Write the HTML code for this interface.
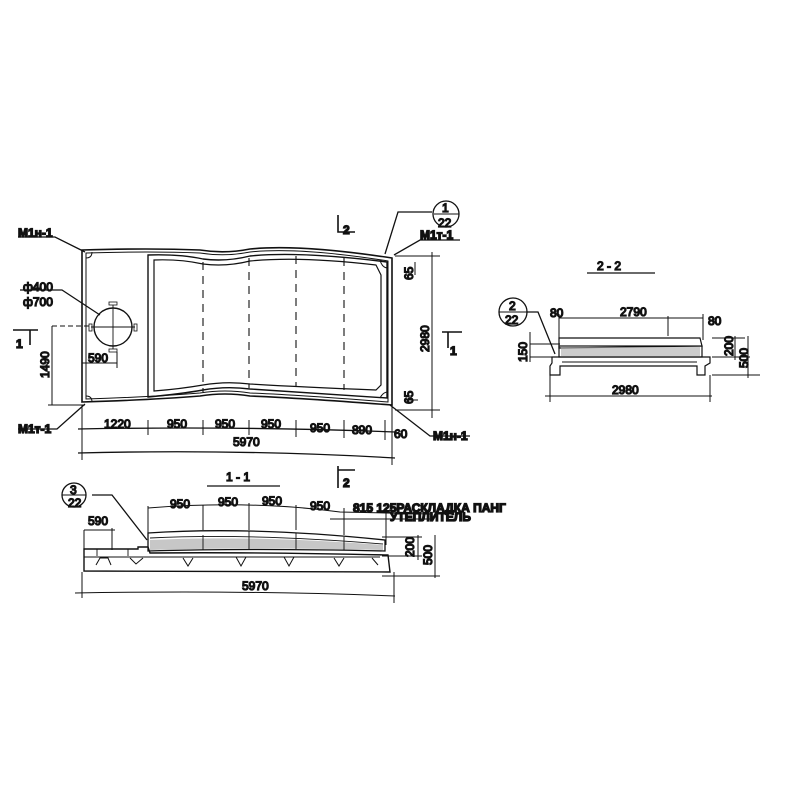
<!DOCTYPE html>
<html><head><meta charset="utf-8"><style>
html,body{margin:0;padding:0;background:#fff;width:800px;height:800px;overflow:hidden}
text{font-family:"Liberation Sans",sans-serif;fill:#111;font-size:12px}
</style></head><body>
<svg width="800" height="800" viewBox="0 0 800 800" xmlns="http://www.w3.org/2000/svg" fill="none" stroke="#111" stroke-width="1.3">
<!-- PLAN -->
<path d="M82 250 Q150 248 200 250 Q225 254 250 249 Q300 244 392 258 L392 405 Q300 398 250 396 Q225 392 200 396 Q150 400 82 402 Z" stroke-width="1.6"/>
<path d="M86 253 Q150 251 200 253 Q225 257 250 252 Q300 247 388 261 L388 402 Q300 395 250 393 Q225 389 200 393 Q150 397 86 399 Z" stroke-width="1"/>
<path d="M148 255 Q180 254 203 259 Q226 262 250 256 Q300 251 387 262 L387 398 Q300 392 250 389 Q226 386 203 390 Q180 394 148 397 Z" stroke-width="1.4"/>
<path d="M154 260 Q180 259 203 264 Q226 267 250 261 Q300 256 376 265 L381 275 L381 385 L376 390 Q300 387 250 384 Q226 381 203 385 Q180 389 154 391 Z" stroke-width="1.2"/>
<g stroke-dasharray="8,6" stroke-width="1.1">
<line x1="203" y1="262" x2="203" y2="392"/><line x1="249" y1="258" x2="249" y2="388"/><line x1="296" y1="256" x2="296" y2="386"/><line x1="344" y1="258" x2="344" y2="390"/>
</g>
<path d="M86 258 Q92 258 92 252 M86 396 Q92 396 92 402 M380 260 Q382 268 388 268 M380 398 Q383 392 388 392" stroke-width="1"/>
<circle cx="113" cy="327" r="19" stroke-width="1.4"/>
<line x1="113" y1="305" x2="113" y2="349" stroke-width="0.9"/><line x1="91" y1="327" x2="135" y2="327" stroke-width="0.9"/>
<rect x="109" y="302" width="8" height="3" stroke-width="0.8"/><rect x="109" y="349" width="8" height="3" stroke-width="0.8"/>
<rect x="89" y="324" width="3" height="7" stroke-width="0.8"/><rect x="134" y="324" width="3" height="7" stroke-width="0.8"/>
<!-- leaders -->
<path d="M18 237 L55 237 L85 252"/><path d="M18 429 L57 429 L85 404"/><path d="M20 290 L62 290 L100 315"/>
<path d="M390 405 L430 436 L470 436"/><path d="M385 254 L398 212 L432 212"/><path d="M394 255 L420 240 L460 240"/>
<circle cx="446" cy="214" r="13"/><line x1="434" y1="214" x2="459" y2="214" stroke-width="0.9"/>
<!-- dims -->
<path d="M78 429 Q240 426 395 432" /><path d="M78 453 Q240 449 395 458"/>
<g stroke-width="1"><line x1="82" y1="405" x2="82" y2="460"/><line x1="148" y1="420" x2="148" y2="435"/><line x1="203" y1="420" x2="203" y2="435"/><line x1="249" y1="420" x2="249" y2="435"/><line x1="296" y1="420" x2="296" y2="437"/><line x1="344" y1="420" x2="344" y2="438"/><line x1="385" y1="420" x2="385" y2="440"/><line x1="392" y1="405" x2="392" y2="465"/>
<line x1="52" y1="326" x2="92" y2="326" stroke-dasharray="5,3"/><line x1="52" y1="326" x2="52" y2="405"/><line x1="48" y1="405" x2="85" y2="405"/>
<line x1="82" y1="363" x2="117" y2="363"/><line x1="117" y1="352" x2="117" y2="368"/>
<line x1="432" y1="252" x2="432" y2="418"/><line x1="395" y1="256" x2="440" y2="256"/><line x1="395" y1="410" x2="440" y2="410"/>
<line x1="415" y1="262" x2="415" y2="275"/><line x1="405" y1="400" x2="418" y2="400"/></g>
<g stroke-width="1.6">
<path d="M338 215 L338 232 L355 232"/><path d="M442 332 L462 332 M448 332 L448 348"/><path d="M13 330 L38 330 M30 330 L30 345"/>
<path d="M338 466 L338 488 M338 470 L355 470"/>
</g>
<text x="18" y="237" font-size="11" font-weight="bold">M1н-1</text>
<text x="18" y="433" font-size="11" font-weight="bold">M1т-1</text>
<text x="420" y="239" font-size="11" font-weight="bold">M1т-1</text>
<text x="433" y="440" font-size="11" font-weight="bold">M1н-1</text>
<text x="23" y="291" font-size="13">ф400</text><text x="23" y="306" font-size="13">ф700</text>
<text x="88" y="362" font-size="11">590</text>
<text x="16" y="348" font-size="12" font-weight="bold">1</text><text x="450" y="355" font-size="12" font-weight="bold">1</text>
<text x="343" y="234" font-size="12" font-weight="bold">2</text><text x="343" y="487" font-size="12" font-weight="bold">2</text>
<text x="442" y="212" font-size="10">1</text><text x="438" y="227" font-size="10">22</text>
<text transform="translate(49,378) rotate(-90)" font-size="12">1490</text>
<text transform="translate(429,352) rotate(-90)" font-size="12">2980</text>
<text transform="translate(413,280) rotate(-90)" font-size="10">65</text>
<text transform="translate(413,404) rotate(-90)" font-size="10">65</text>
<text x="104" y="428" font-size="12">1220</text><text x="167" y="428">950</text><text x="215" y="428">950</text><text x="261" y="428">950</text><text x="310" y="432">950</text><text x="352" y="434">890</text><text x="394" y="438">60</text>
<text x="233" y="446">5970</text>
<!-- SECTION 1-1 -->
<text x="226" y="481" font-size="15">1 - 1</text><line x1="207" y1="486" x2="280" y2="486"/>
<circle cx="74" cy="495" r="12"/><line x1="62" y1="495" x2="86" y2="495" stroke-width="0.9"/>
<text x="70" y="494" font-size="10">3</text><text x="68" y="507" font-size="10">22</text>
<path d="M92 495 L112 495 L147 540"/>
<!-- base -->
<path d="M84 549 L138 549 L138 547 L148 547 L150 553 Q250 552 388 555 L390 572 Q250 571 84 571 Z" stroke-width="1.4"/>
<path d="M96 565 L100 558 L108 558 L111 565 M130 558 L136 564 L143 558 M183 558 L188 566 L193 558 M236 557 L241 566 L246 557 M284 557 L289 566 L294 557 M334 558 L339 566 L344 558 M372 558 L378 565" stroke-width="1"/>
<path d="M84 557 L380 557" stroke-width="0.9"/>
<line x1="97" y1="549" x2="97" y2="556" stroke-width="0.9"/><line x1="128" y1="549" x2="128" y2="556" stroke-width="0.9"/>
<!-- top panels -->
<path d="M148 533 Q250 526 385 540 L385 551 Q250 548 148 551 Z" stroke-width="1.3"/>
<path d="M150 538 Q250 533 383 544" stroke-width="0.9"/>
<g fill="#999" stroke="none" opacity="0.55"><path d="M150 540 Q250 535 383 545 L383 550 Q250 547 150 550 Z"/></g>
<g stroke-width="0.9"><line x1="203" y1="535" x2="203" y2="550"/><line x1="249" y1="531" x2="249" y2="549"/><line x1="296" y1="533" x2="296" y2="549"/><line x1="344" y1="537" x2="344" y2="550"/></g>
<path d="M148 508 Q250 500 340 512 L430 514 M330 519 L430 519" stroke-width="1"/>
<g stroke-width="1"><line x1="148" y1="506" x2="148" y2="535"/><line x1="203" y1="505" x2="203" y2="530"/><line x1="249" y1="503" x2="249" y2="530"/><line x1="296" y1="505" x2="296" y2="530"/><line x1="344" y1="508" x2="344" y2="535"/><line x1="386" y1="512" x2="386" y2="545"/>
<line x1="84" y1="530" x2="84" y2="552"/><line x1="84" y1="530" x2="115" y2="530"/><line x1="112" y1="528" x2="112" y2="550"/>
<line x1="382" y1="537" x2="422" y2="537"/><line x1="382" y1="556" x2="422" y2="556"/><line x1="382" y1="576" x2="440" y2="576"/><line x1="418" y1="535" x2="418" y2="560"/><line x1="435" y1="535" x2="435" y2="578"/>
<path d="M75 593 Q240 590 395 596"/><line x1="82" y1="572" x2="82" y2="598"/><line x1="394" y1="572" x2="394" y2="603"/></g>
<text x="170" y="508">950</text><text x="218" y="506">950</text><text x="262" y="505">950</text><text x="310" y="510">950</text>
<text x="353" y="512" font-size="9" font-weight="bold">815 125РАСКЛАДКА ПАНГ</text>
<text x="390" y="521" font-size="8" font-weight="bold">УТЕПЛИТЕЛЬ</text>
<text x="88" y="525" font-size="12">590</text>
<text transform="translate(414,557) rotate(-90)" font-size="10">200</text>
<text transform="translate(432,565) rotate(-90)" font-size="10">500</text>
<text x="242" y="590">5970</text>
<!-- SECTION 2-2 -->
<text x="597" y="270" font-size="14">2 - 2</text><line x1="587" y1="273" x2="655" y2="273"/>
<circle cx="513" cy="312" r="14"/><line x1="499" y1="312" x2="527" y2="312" stroke-width="0.9"/>
<text x="509" y="310" font-size="11">2</text><text x="505" y="324" font-size="11">22</text>
<path d="M527 312 L538 312 L555 354"/>
<path d="M559 338 L700 338 L702 346 L559 348 Z" stroke-width="1.2"/>
<rect x="559" y="346" width="143" height="11" stroke-width="1.2"/>
<g fill="#aaa" stroke="none" opacity="0.6"><rect x="561" y="347" width="139" height="9"/></g>
<path d="M552 357 L710 357 L710 363 L705 366 L705 375 L697 375 L697 366 L560 366 L560 375 L550 375 L550 366 L552 363 Z" stroke-width="1.2"/>
<line x1="562" y1="362" x2="697" y2="362" stroke-width="0.9"/>
<g stroke-width="1"><line x1="559" y1="318" x2="703" y2="318"/><line x1="559" y1="314" x2="559" y2="340"/><line x1="703" y1="314" x2="703" y2="340"/><line x1="668" y1="316" x2="668" y2="336"/>
<line x1="530" y1="344" x2="560" y2="344"/><line x1="530" y1="357" x2="555" y2="357"/><line x1="530" y1="332" x2="530" y2="362"/>
<line x1="712" y1="338" x2="745" y2="338"/><line x1="712" y1="357" x2="750" y2="357"/><line x1="712" y1="375" x2="760" y2="375"/><line x1="735" y1="336" x2="735" y2="360"/><line x1="748" y1="336" x2="748" y2="378"/>
<line x1="545" y1="396" x2="712" y2="396"/><line x1="550" y1="375" x2="550" y2="402"/><line x1="710" y1="375" x2="710" y2="402"/></g>
<text x="550" y="317" font-size="11">80</text><text x="620" y="316">2790</text><text x="708" y="325" font-size="11">80</text>
<text transform="translate(527,362) rotate(-90)" font-size="11">150</text>
<text transform="translate(733,356) rotate(-90)" font-size="10">200</text>
<text transform="translate(748,368) rotate(-90)" font-size="10">500</text>
<text x="612" y="394">2980</text>
</svg>
</body></html>
